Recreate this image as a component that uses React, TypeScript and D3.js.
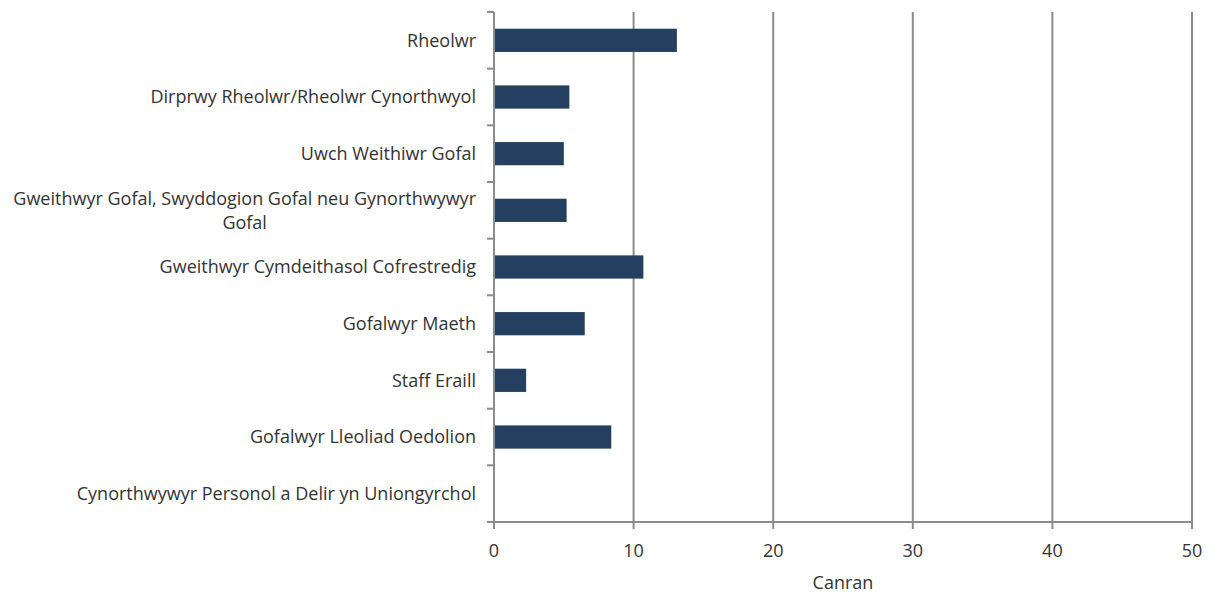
import React from "react";
import * as d3 from "d3";

const categories: string[][] = [
  ["Rheolwr"],
  ["Dirprwy Rheolwr/Rheolwr Cynorthwyol"],
  ["Uwch Weithiwr Gofal"],
  ["Gweithwyr Gofal, Swyddogion Gofal neu Gynorthwywyr", "Gofal"],
  ["Gweithwyr Cymdeithasol Cofrestredig"],
  ["Gofalwyr Maeth"],
  ["Staff Eraill"],
  ["Gofalwyr Lleoliad Oedolion"],
  ["Cynorthwywyr Personol a Delir yn Uniongyrchol"],
];
const values: number[] = [13.1, 5.4, 5.0, 5.2, 10.7, 6.5, 2.3, 8.4, 0];
const xTicks: number[] = [0, 10, 20, 30, 40, 50];
const xTitle = "Canran";

const W = 1210;
const H = 595;
const margin = { left: 494, right: 18, top: 12, bottom: 73 };
const axisColor = "#8c8c8c";
const barColor = "#243F60";
const textColor = "#333333";
const font = "'Open Sans', 'Noto Sans', sans-serif";
const fs = 18;

export default function App() {
  const x = d3.scaleLinear().domain([0, 50]).range([margin.left, W - margin.right]);
  const idx = categories.map((_, i) => String(i));
  const y = d3.scaleBand<string>().domain(idx).range([margin.top, H - margin.bottom]).paddingInner(0).paddingOuter(0);
  const step = y.step();
  const barH = step * 0.41;
  const x0 = x(0);
  const yBottom = H - margin.bottom;

  return (
    <svg width={W} height={H} style={{ position: "absolute", left: 0, top: 0, background: "#fff" }}>
      {xTicks.filter((t) => t !== 0).map((t) => (
        <line key={"g" + t} x1={x(t)} x2={x(t)} y1={margin.top} y2={yBottom} stroke={axisColor} strokeWidth={2} />
      ))}
      {values.map((v, i) => {
        const cy = (y(String(i)) as number) + step / 2;
        return v > 0 ? (
          <rect key={"b" + i} x={x0} y={cy - barH / 2} width={x(v) - x0} height={barH} fill={barColor} />
        ) : null;
      })}
      <line x1={x0} x2={x0} y1={margin.top} y2={yBottom} stroke={axisColor} strokeWidth={2} />
      {d3.range(categories.length).map((i) => {
        const yy = y(String(i)) as number;
        return <line key={"yt" + i} x1={x0 - 7} x2={x0} y1={yy} y2={yy} stroke={axisColor} strokeWidth={2} />;
      })}
      <line x1={x0 - 7} x2={x(50)} y1={yBottom} y2={yBottom} stroke={axisColor} strokeWidth={2} />
      {xTicks.map((t) => (
        <g key={"xt" + t}>
          <line x1={x(t)} x2={x(t)} y1={yBottom} y2={yBottom + 7} stroke={axisColor} strokeWidth={2} />
          <text x={x(t)} y={yBottom + 35} textAnchor="middle" fontFamily={font} fontSize={fs} fill={textColor}>
            {t}
          </text>
        </g>
      ))}
      {categories.map((lines, i) => {
        const cy = (y(String(i)) as number) + step / 2;
        const lh = 24;
        const startY = cy - ((lines.length - 1) * lh) / 2;
        return (
          <g key={"l" + i}>
            {lines.length === 1 ? (
              <text x={476} y={cy} dy="0.35em" textAnchor="end" fontFamily={font} fontSize={fs} fill={textColor}>
                {lines[0]}
              </text>
            ) : (
              <MultiLabel lines={lines} right={476} startY={startY} lh={lh} />
            )}
          </g>
        );
      })}
      <text x={(x(0) + x(50)) / 2} y={H - 6} textAnchor="middle" fontFamily={font} fontSize={fs} fill={textColor}>
        {xTitle}
      </text>
    </svg>
  );
}

function MultiLabel({ lines, right, startY, lh }: { lines: string[]; right: number; startY: number; lh: number }) {
  const ref = React.useRef<SVGGElement>(null);
  const [w, setW] = React.useState(0);
  React.useLayoutEffect(() => {
    if (!ref.current) return;
    const texts = ref.current.querySelectorAll("text");
    let m = 0;
    texts.forEach((t) => {
      m = Math.max(m, (t as SVGTextElement).getComputedTextLength());
    });
    setW(m);
  }, []);
  const cx = right - w / 2;
  return (
    <g ref={ref}>
      {lines.map((l, k) => (
        <text key={k} x={cx} y={startY + k * lh} dy="0.35em" textAnchor="middle" fontFamily={font} fontSize={fs} fill={textColor}>
          {l}
        </text>
      ))}
    </g>
  );
}
